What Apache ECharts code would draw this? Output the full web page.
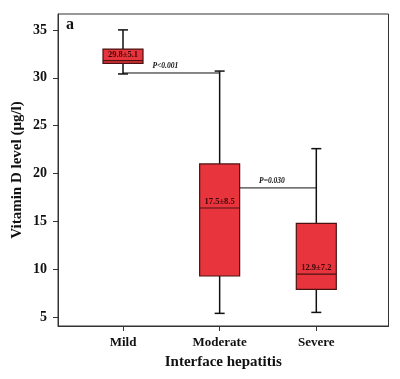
<!DOCTYPE html>
<html>
<head>
<meta charset="utf-8">
<script src="https://cdn.jsdelivr.net/npm/echarts@6/dist/echarts.min.js"></script>
<style>html,body{margin:0;padding:0;background:#fff;}#c{width:400px;height:379px;}</style>
</head>
<body>
<div id="c"></div>
<script>
// ---- data ----
var categories = ['Mild', 'Moderate', 'Severe'];
var whiskerLow  = [30.4, 5.4, 5.5];
var q1Values    = [31.5, 9.3, 7.9];
var medians     = [31.8, 16.4, 9.5];
var q3Values    = [33.0, 21.0, 14.8];
var whiskerHigh = [35.0, 30.7, 22.6];
var meanLabels  = ['29.8±5.1', '17.5±8.5', '12.9±7.2'];
var yTicks      = [5, 10, 15, 20, 25, 30, 35];
var compFrom    = [0, 1];
var compTo      = [1, 2];
var compLevel   = [30.5, 18.5];
var compLabels  = ['P<0.001', 'P=0.030'];

var SERIF = '"Liberation Serif", "Times New Roman", serif';
var boxData = categories.map(function (c, i) {
  return [i, whiskerLow[i], q1Values[i], medians[i], q3Values[i], whiskerHigh[i]];
});
var compData = compFrom.map(function (f, i) { return [f, compTo[i], compLevel[i]]; });

var BOX_HALF = 20, CAP_HALF = 5;

function renderBox(params, api) {
  var x = api.value(0);
  var pMin = api.coord([x, api.value(1)]);
  var pQ1 = api.coord([x, api.value(2)]);
  var pMed = api.coord([x, api.value(3)]);
  var pQ3 = api.coord([x, api.value(4)]);
  var pMax = api.coord([x, api.value(5)]);
  var cx = pMin[0];
  var lineStyle = { stroke: '#111', lineWidth: 1.5 };
  return {
    type: 'group',
    children: [
      { type: 'line', shape: { x1: cx, y1: pMax[1], x2: cx, y2: pQ3[1] }, style: lineStyle },
      { type: 'line', shape: { x1: cx, y1: pQ1[1], x2: cx, y2: pMin[1] }, style: lineStyle },
      { type: 'line', shape: { x1: cx - CAP_HALF, y1: pMax[1], x2: cx + CAP_HALF, y2: pMax[1] }, style: lineStyle },
      { type: 'line', shape: { x1: cx - CAP_HALF, y1: pMin[1], x2: cx + CAP_HALF, y2: pMin[1] }, style: lineStyle },
      { type: 'rect', shape: { x: cx - BOX_HALF, y: pQ3[1], width: 2 * BOX_HALF, height: pQ1[1] - pQ3[1] },
        style: { fill: '#e8343c', stroke: '#4a1212', lineWidth: 1.2 } },
      { type: 'line', shape: { x1: cx - BOX_HALF, y1: pMed[1], x2: cx + BOX_HALF, y2: pMed[1] },
        style: { stroke: '#4a1212', lineWidth: 1.2 } },
      { type: 'text', style: { x: cx, y: pMed[1] - 1.5, text: meanLabels[params.dataIndex],
        font: 'bold 8.5px ' + SERIF, fill: '#3a0606', align: 'center', verticalAlign: 'bottom' } }
    ]
  };
}

function renderComp(params, api) {
  var f = api.value(0), t = api.value(1), lvl = api.value(2);
  var p1 = api.coord([f, lvl]);
  var p2 = api.coord([t, lvl]);
  var startX = p1[0];
  if (lvl >= q1Values[f] && lvl <= q3Values[f]) startX += BOX_HALF;
  var endX = p2[0];
  return {
    type: 'group',
    children: [
      { type: 'line', shape: { x1: startX, y1: p1[1], x2: endX, y2: p1[1] }, style: { stroke: '#111', lineWidth: 1 } },
      { type: 'text', style: { x: (startX + endX) / 2 - 6, y: p1[1] - 2.5, text: compLabels[params.dataIndex],
        font: 'italic bold 7.5px ' + SERIF, fill: '#111', align: 'center', verticalAlign: 'bottom' } }
    ]
  };
}

var chart = echarts.init(document.getElementById('c'), null, { renderer: 'canvas' });
chart.setOption({
  animation: false,
  backgroundColor: '#fff',
  grid: { left: 58, top: 14, right: 11.5, bottom: 53, outerBoundsMode: 'none', containLabel: false,
    show: true, borderColor: '#333', borderWidth: 1, backgroundColor: 'transparent' },
  xAxis: {
    type: 'value', min: -0.6725, max: 2.747,
    name: 'Interface hepatitis', nameLocation: 'middle', nameGap: 29, nameMoveOverlap: false,
    nameTextStyle: { fontFamily: SERIF, fontWeight: 'bold', fontSize: 15, color: '#111', verticalAlign: 'top' },
    axisLine: { show: true, onZero: false, lineStyle: { color: '#333' } },
    axisTick: { show: true, length: 5, customValues: [0, 1, 2], lineStyle: { color: '#333' } },
    axisLabel: { customValues: [0, 1, 2], margin: 10, fontFamily: SERIF, fontWeight: 'bold', fontSize: 13, color: '#111',
      formatter: function (v) { return categories[Math.round(v)]; } },
    splitLine: { show: false }
  },
  yAxis: {
    type: 'value', min: 4.08, max: 36.66,
    name: 'Vitamin D level (μg/l)', nameLocation: 'middle', nameGap: 33, nameRotate: 90, nameMoveOverlap: false,
    nameTextStyle: { fontFamily: SERIF, fontWeight: 'bold', fontSize: 15, color: '#111' },
    axisLine: { show: true, onZero: false, lineStyle: { color: '#333' } },
    axisTick: { show: true, length: 5, customValues: yTicks, lineStyle: { color: '#333' } },
    axisLabel: { customValues: yTicks, margin: 11, fontFamily: SERIF, fontWeight: 'bold', fontSize: 14, color: '#111' },
    splitLine: { show: false }
  },
  graphic: [
    { type: 'text', left: 66, top: 17, style: { text: 'a', font: 'bold 16px ' + SERIF, fill: '#111' } }
  ],
  series: [
    { type: 'custom', renderItem: renderBox, data: boxData, encode: { x: 0, y: [1, 2, 3, 4, 5] }, z: 3 },
    { type: 'custom', renderItem: renderComp, data: compData, encode: { x: [0, 1], y: 2 }, z: 2 }
  ]
});
</script>
</body>
</html>
